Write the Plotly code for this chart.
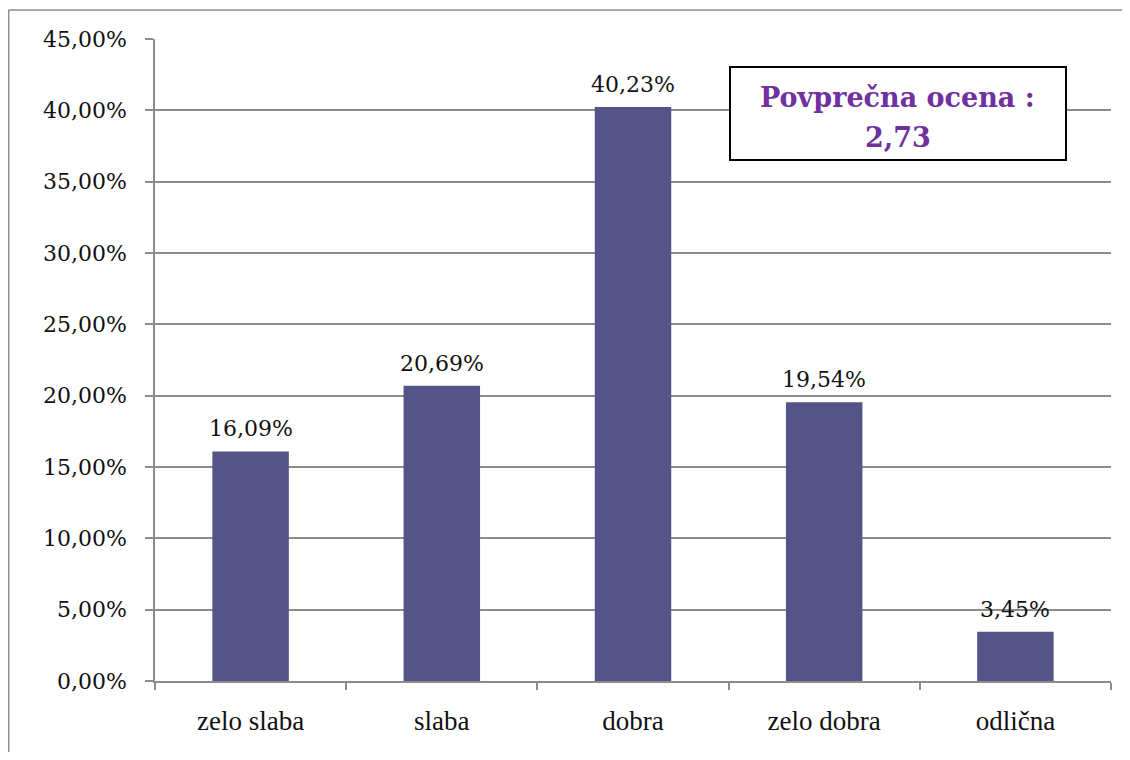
import plotly.graph_objects as go

categories = ["zelo slaba", "slaba", "dobra", "zelo dobra", "odlična"]
values = [16.09, 20.69, 40.23, 19.54, 3.45]
y_ticks = [0, 5, 10, 15, 20, 25, 30, 35, 40, 45]
y_tick_labels = [f"{t:.2f}".replace(".", ",") + "%" for t in y_ticks]
avg_title = "Povprečna ocena :"
avg_value = "2,73"

BAR = "#545488"
GRID = "#8c8c8c"
NUM_FONT = "Georgia, DejaVu Serif, serif"
CAT_FONT = "Times New Roman, Liberation Serif, serif"

# the page body has an 8px default margin; work in figure coordinates
OFF = 8
W, H = 1130 - 2 * OFF, 760 - 2 * OFF
L, T = 155 - OFF, 39 - OFF
pw, ph = 956, 642
R = W - L - pw
B = H - T - ph


def px(x):  # page pixel -> paper x
    return (x - OFF - L) / pw


def py(y):  # page pixel -> paper y
    return (T + ph - (y - OFF)) / ph


fig = go.Figure()
fig.add_trace(go.Bar(
    x=categories, y=values, marker=dict(color=BAR, line=dict(width=0)),
    width=0.4, hoverinfo="skip",
))

for c, v in zip(categories, values):
    fig.add_annotation(
        x=c, y=v, xref="x", yref="y", text=f"{v:.2f}".replace(".", ",") + "%",
        showarrow=False, yanchor="bottom", xanchor="center", yshift=8,
        font=dict(family=NUM_FONT, size=22, color="#111"),
    )

fig.add_shape(type="rect", xref="paper", yref="paper",
              x0=px(730), x1=px(1066), y0=py(160), y1=py(67),
              line=dict(color="black", width=2), fillcolor="white", layer="above")
for txt, yc in ((avg_title, 97), (avg_value, 137)):
    fig.add_annotation(xref="paper", yref="paper", x=(px(730) + px(1066)) / 2,
                       y=py(yc), xanchor="center", yanchor="middle",
                       text="<b>" + txt + "</b>",
                       showarrow=False, align="center",
                       font=dict(family=NUM_FONT, size=27, color="#7030A0"))

# outer chart frame
fig.add_shape(type="line", xref="paper", yref="paper",
              x0=px(8.7), x1=px(1140), y0=py(10), y1=py(10),
              line=dict(color=GRID, width=1.5))
fig.add_shape(type="line", xref="paper", yref="paper",
              x0=px(8.7), x1=px(8.7), y0=py(10), y1=py(780),
              line=dict(color=GRID, width=1.5))

fig.update_layout(
    width=W, height=H,
    margin=dict(l=L, r=R, t=T, b=B, autoexpand=False),
    paper_bgcolor="white", plot_bgcolor="white",
    showlegend=False, bargap=0.6,
    xaxis=dict(
        showline=True, linecolor=GRID, linewidth=1.5,
        ticks="outside", tickson="boundaries", ticklen=7, tickcolor=GRID, tickwidth=1.5,
        tickfont=dict(family=CAT_FONT, size=27, color="#111"),
        ticklabelstandoff=15,
        showgrid=False,
    ),
    yaxis=dict(
        range=[0, 45], tickvals=y_ticks, ticktext=y_tick_labels,
        showline=True, linecolor=GRID, linewidth=1.5,
        ticks="outside", ticklen=8, tickcolor=GRID, tickwidth=1.5,
        showgrid=True, gridcolor=GRID, gridwidth=1.5,
        tickfont=dict(family=NUM_FONT, size=22, color="#111"),
        ticklabelstandoff=14, zeroline=False,
    ),
)

fig.write_html("out.html")
